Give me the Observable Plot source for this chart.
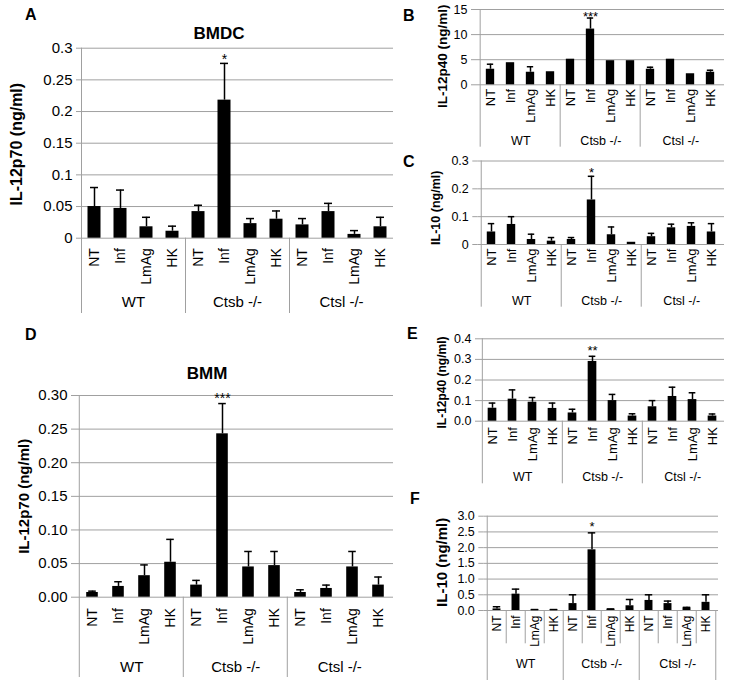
<!DOCTYPE html>
<html><head><meta charset="utf-8">
<script src="https://cdn.jsdelivr.net/npm/d3@7"></script>
<script src="https://cdn.jsdelivr.net/npm/@observablehq/plot@0.6"></script>
<style>
body{margin:0;background:#fff}
#fig{position:relative;width:730px;height:680px;overflow:hidden;font-family:"Liberation Sans",Arial,sans-serif;background:#fff}
#fig svg{position:absolute;left:0;top:0}
#fig .lbl{position:absolute;font-weight:bold;line-height:1;white-space:nowrap;color:#000}
</style></head><body><div id="fig"></div><script>
const groups = ["WT", "Ctsb -/-", "Ctsl -/-"];
const treatments = ["NT", "Inf", "LmAg", "HK"];

// A: BMDC IL-12p70 (ng/ml)
const aMean = [0.050, 0.047, 0.018, 0.011, 0.042, 0.218, 0.023, 0.030, 0.021, 0.042, 0.006, 0.018];
const aErr  = [0.030, 0.029, 0.015, 0.008, 0.010, 0.058, 0.008, 0.013, 0.010, 0.013, 0.006, 0.015];
const aSig  = ["", "", "", "", "", "*", "", "", "", "", "", ""];
const aTicks = [0, 0.05, 0.1, 0.15, 0.2, 0.25, 0.3];

// B: BMDC IL-12p40 (ng/ml)
const bMean = [3.1, 4.4, 2.5, 2.6, 5.1, 11.1, 4.8, 4.8, 3.1, 5.1, 2.2, 2.5];
const bErr  = [1.0, 0, 1.1, 0, 0, 2.2, 0, 0, 0.4, 0, 0, 0.4];
const bSig  = ["", "", "", "", "", "***", "", "", "", "", "", ""];
const bTicks = [0, 5, 10, 15];

// C: BMDC IL-10 (ng/ml)
const cMean = [0.045, 0.072, 0.018, 0.012, 0.018, 0.160, 0.035, 0.008, 0.028, 0.060, 0.065, 0.045];
const cErr  = [0.030, 0.028, 0.019, 0.013, 0.007, 0.085, 0.028, 0, 0.012, 0.013, 0.013, 0.030];
const cSig  = ["", "", "", "", "", "*", "", "", "", "", "", ""];
const cTicks = [0, 0.1, 0.2, 0.3];

// D: BMM IL-12p70 (ng/ml)
const dMean = [0.007, 0.016, 0.032, 0.052, 0.018, 0.243, 0.045, 0.047, 0.007, 0.013, 0.045, 0.018];
const dErr  = [0.002, 0.007, 0.016, 0.034, 0.007, 0.045, 0.023, 0.021, 0.004, 0.005, 0.023, 0.012];
const dSig  = ["", "", "", "", "", "***", "", "", "", "", "", ""];
const dTicks = [0, 0.05, 0.10, 0.15, 0.20, 0.25, 0.30];

// E: BMM IL-12p40 (ng/ml)
const eMean = [0.063, 0.107, 0.092, 0.062, 0.040, 0.290, 0.100, 0.025, 0.070, 0.120, 0.105, 0.025];
const eErr  = [0.025, 0.045, 0.023, 0.026, 0.018, 0.025, 0.030, 0.011, 0.030, 0.045, 0.033, 0.010];
const eSig  = ["", "", "", "", "", "**", "", "", "", "", "", ""];
const eTicks = [0, 0.1, 0.2, 0.3, 0.4];

// F: BMM IL-10 (ng/ml)
const fMean = [0.05, 0.52, 0.02, 0.02, 0.22, 1.93, 0.04, 0.15, 0.32, 0.22, 0.08, 0.26];
const fErr  = [0.07, 0.16, 0.01, 0.01, 0.28, 0.54, 0.01, 0.20, 0.18, 0.08, 0.02, 0.24];
const fSig  = ["", "", "", "", "", "*", "", "", "", "", "", ""];
const fTicks = [0, 0.5, 1.0, 1.5, 2.0, 2.5, 3.0];

const FONT = '"Liberation Sans", Arial, sans-serif';
const GRID = "#a0a0a0";
const fig = document.getElementById("fig");

function panel(p) {
  const keys = [];
  groups.forEach(g => treatments.forEach(t => keys.push(g + "|" + t)));
  const rows = p.mean.map((m, i) => ({
    key: keys[i], group: groups[Math.floor(i / 4)], cat: treatments[i % 4],
    mean: m, err: p.err[i], top: m + p.err[i], sig: p.sig[i]
  }));
  const step = (p.R - p.L) / keys.length;
  const barInset = (step - p.barW) / 2;
  const capInset = (step - p.capW) / 2;
  const ext = p.catBottom - p.B0;
  const withErr = rows.filter(d => d.err > 0);
  const marks = [
    Plot.gridY(p.ticks, {stroke: GRID, strokeOpacity: 1, strokeWidth: 1}),
    Plot.axisY({ticks: p.ticks, tickFormat: p.fmt, tickSize: 5, tickPadding: p.tickPad, stroke: GRID, strokeOpacity: 1, fill: "#000", fontSize: p.tickFont, label: null}),
    Plot.ruleX([rows[0]], {x: "key", y1: p.ticks[p.ticks.length - 1], y2: 0, dx: -step / 2, insetBottom: -ext, stroke: GRID}),
    Plot.ruleX(rows.filter((d, i) => i % 4 === 0 && i > 0), {x: "key", y1: 0, y2: 0, dx: -step / 2, insetBottom: -ext, stroke: GRID}),
    Plot.barY(rows, {x: "key", y: "mean", fill: "#000", insetLeft: barInset, insetRight: barInset}),
    Plot.ruleX(withErr, {x: "key", y1: "mean", y2: "top", stroke: "#000", strokeWidth: 1.5}),
    Plot.tickY(withErr, {x: "key", y: "top", stroke: "#000", strokeWidth: 1.5, insetLeft: capInset, insetRight: capInset}),
    Plot.text(rows.filter(d => d.sig), {x: "key", y: "top", text: "sig", lineAnchor: "bottom", dy: 0.58 * p.sigFont - p.sigGap, fontSize: p.sigFont, fill: "#000"}),
    Plot.text(rows, {x: "key", y: 0, text: "cat", rotate: -90, textAnchor: "end", lineAnchor: "middle", dy: p.catGap, fontSize: p.catFont, fill: "#000"}),
    Plot.text(rows.filter((d, i) => i % 4 === 1), {x: "key", y: 0, text: "group", dx: step / 2, dy: p.groupY - p.B0, lineAnchor: "middle", fontSize: p.groupFont, fill: "#000"}),
    Plot.text([p.ylabel], {frameAnchor: "left", text: d => d, rotate: -90, dx: p.ylabX - p.L, dy: p.ylabDy || 0, textAnchor: "middle", lineAnchor: "middle", fontWeight: "bold", fontSize: p.ylabFont, fill: "#000"})
  ];
  if (p.innerBottom) {
    marks.push(Plot.ruleX(rows.filter((d, i) => i % 4 !== 0), {x: "key", y1: 0, y2: 0, dx: -step / 2, insetBottom: -(p.innerBottom - p.B0), stroke: GRID}));
  }
  if (p.rightLine) {
    marks.push(Plot.ruleX([rows[rows.length - 1]], {x: "key", y1: 0, y2: 0, dx: step / 2, insetBottom: -ext, stroke: GRID}));
  }
  const svg = Plot.plot({
    width: 730, height: 680,
    marginLeft: p.L, marginRight: 730 - p.R, marginTop: p.T, marginBottom: 680 - p.B0,
    style: {background: "transparent", fontFamily: FONT, overflow: "visible"},
    x: {type: "band", domain: keys, padding: 0, axis: null},
    y: {domain: [0, p.ticks[p.ticks.length - 1]]},
    marks
  });
  fig.appendChild(svg);
}

function label(text, x, baseline, size) {
  const d = document.createElement("div");
  d.className = "lbl";
  d.textContent = text;
  d.style.fontSize = size + "px";
  d.style.left = x + "px";
  d.style.top = (baseline - 0.8465 * size) + "px";
  fig.appendChild(d);
  return d;
}
function centered(text, cx, baseline, size) {
  const d = label(text, cx, baseline, size);
  d.style.transform = "translateX(-50%)";
}

const gen = d3.format("~g");
const f2 = d3.format(".2f");
const f1 = d3.format(".1f");

panel({mean: aMean, err: aErr, sig: aSig, ticks: aTicks, fmt: gen, ylabel: "IL-12p70 (ng/ml)",
  L: 81, R: 393, T: 47.7, B0: 237.7, catBottom: 313, tickFont: 15, tickPad: 4, catFont: 14, groupFont: 15,
  ylabFont: 16, ylabX: 16, ylabDy: 1, catGap: 10, groupY: 302, barW: 13, capW: 8, sigFont: 14, sigGap: 8});
panel({mean: dMean, err: dErr, sig: dSig, ticks: dTicks, fmt: f2, ylabel: "IL-12p70 (ng/ml)",
  L: 76, R: 393, T: 395, B0: 596.7, catBottom: 677, tickFont: 15, tickPad: 4, catFont: 14, groupFont: 15,
  ylabFont: 15, ylabX: 24, catGap: 11, groupY: 667, barW: 12, capW: 8, sigFont: 14, sigGap: 8.5});
panel({mean: bMean, err: bErr, sig: bSig, ticks: bTicks, fmt: gen, ylabel: "IL-12p40 (ng/ml)",
  L: 476, R: 724, T: 9, B0: 84.3, catBottom: 146.7, tickFont: 12.5, tickPad: 4, catFont: 13, groupFont: 12.5,
  ylabFont: 13.5, ylabX: 441.7, ylabDy: 9, catGap: 4, groupY: 140, barW: 9, capW: 7, sigFont: 13, sigGap: 5});
panel({mean: cMean, err: cErr, sig: cSig, ticks: cTicks, fmt: gen, ylabel: "IL-10 (ng/ml)",
  L: 477.3, R: 724, T: 160.5, B0: 244, catBottom: 306.7, tickFont: 12.5, tickPad: 4, catFont: 13, groupFont: 12.5,
  ylabFont: 12.5, ylabX: 435, ylabDy: 5, catGap: 4, groupY: 300, barW: 9, capW: 7, sigFont: 13, sigGap: 7});
panel({mean: eMean, err: eErr, sig: eSig, ticks: eTicks, fmt: f1, ylabel: "IL-12p40 (ng/ml)",
  L: 480, R: 724, T: 338.3, B0: 420.7, catBottom: 483.3, tickFont: 12.5, tickPad: 4, catFont: 13, groupFont: 12.5,
  ylabFont: 12, ylabX: 441.7, ylabDy: 2.5, catGap: 6, groupY: 476.7, barW: 9, capW: 7, sigFont: 13, sigGap: 9});
panel({mean: fMean, err: fErr, sig: fSig, ticks: fTicks, fmt: f1, ylabel: "IL-10 (ng/ml)",
  L: 483.3, R: 718, T: 515.7, B0: 610, catBottom: 682, innerBottom: 643.3, rightLine: true,
  tickFont: 12.5, tickPad: 4, catFont: 12, groupFont: 12.5,
  ylabFont: 15, ylabX: 441.7, ylabDy: -1, catGap: 5, groupY: 663, barW: 8.5, capW: 8, sigFont: 13, sigGap: 9});

label("A", 25, 21, 16);
label("B", 403, 22, 16);
label("C", 403, 168, 16);
label("D", 25, 341, 16);
label("E", 407, 340, 16);
label("F", 410, 505, 16);
centered("BMDC", 219, 39, 17);
centered("BMM", 207, 379, 17);
</script></body></html>
